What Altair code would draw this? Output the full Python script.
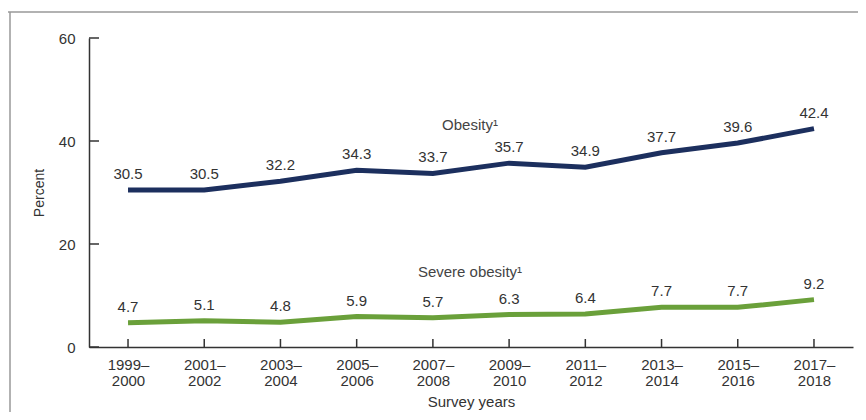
import altair as alt
import pandas as pd
import json

years = ["1999–2000", "2001–2002", "2003–2004", "2005–2006", "2007–2008",
         "2009–2010", "2011–2012", "2013–2014", "2015–2016", "2017–2018"]
obesity = [30.5, 30.5, 32.2, 34.3, 33.7, 35.7, 34.9, 37.7, 39.6, 42.4]
severe = [4.7, 5.1, 4.8, 5.9, 5.7, 6.3, 6.4, 7.7, 7.7, 9.2]
series_names = ["Obesity", "Severe obesity"]
series_colors = ["#1c2f5e", "#6aa03a"]
y_ticks = [0, 20, 40, 60]
annot_text = ["Obesity¹", "Severe obesity¹"]
annot_y = [43.2, 14.6]

W, H = 764, 309
FONT = "Liberation Sans"

idx = list(range(len(years)))
df = pd.DataFrame({
    "idx": idx * 2,
    "year": years * 2,
    "value": obesity + severe,
    "series": [series_names[0]] * len(years) + [series_names[1]] * len(years),
})
df["label"] = df["value"].map(lambda v: f"{v:.1f}")

split_labels = [[y[:5], y[5:]] for y in years]
label_expr = json.dumps(split_labels, ensure_ascii=False) + "[datum.value]"

xscale = alt.Scale(domain=[-0.512, len(years) - 1 + 0.512], nice=False, zero=False)
yscale = alt.Scale(domain=[0, 60])

x_enc = alt.X("idx:Q", scale=xscale,
              axis=alt.Axis(title="Survey years", values=idx, ticks=False, grid=False,
                            domainColor="#333", domainWidth=1.5, labelAngle=0, labelFont=FONT,
                            labelFontSize=15, labelColor="#333", labelPadding=10,
                            labelLineHeight=16, labelBaseline="top", labelFlush=False,
                            labelOverlap=False, labelExpr=label_expr,
                            titleFont=FONT, titleFontSize=15, titleFontWeight="normal",
                            titleColor="#333", titlePadding=6))
y_enc = alt.Y("value:Q", scale=yscale,
              axis=alt.Axis(title="Percent", values=y_ticks, ticks=False, grid=False,
                            domainColor="#333", domainWidth=1.5, labelFont=FONT,
                            labelFontSize=15, labelColor="#333", labelPadding=14,
                            titleFont=FONT, titleFontSize=14, titleFontWeight="normal",
                            titleColor="#333", titlePadding=12))

color = alt.Color("series:N", scale=alt.Scale(domain=series_names, range=series_colors),
                  legend=None)

lines = alt.Chart(df).mark_line(strokeWidth=5).encode(x=x_enc, y=y_enc, color=color)

labels = alt.Chart(df).mark_text(font=FONT, fontSize=15, color="#333", dy=-11,
                                 baseline="alphabetic").encode(
    x=alt.X("idx:Q", scale=xscale),
    y=alt.Y("value:Q", scale=yscale),
    text="label:N")

xticks = alt.Chart(pd.DataFrame({"idx": idx})).mark_rule(color="#333", strokeWidth=1.5).encode(
    x=alt.X("idx:Q", scale=xscale), y=alt.value(H), y2=alt.value(H - 8))

yticks = alt.Chart(pd.DataFrame({"v": y_ticks})).mark_rule(color="#333", strokeWidth=1.5).encode(
    y=alt.Y("v:Q", scale=yscale), x=alt.value(0), x2=alt.value(10))

annot = alt.Chart(pd.DataFrame({"t": annot_text, "v": annot_y})).mark_text(
    font=FONT, fontSize=15, color="#444").encode(
    x=alt.value(381), y=alt.Y("v:Q", scale=yscale), text="t:N")

frame_top = alt.Chart(pd.DataFrame({"k": [0]})).mark_rule(color="#999", strokeWidth=1.5).encode(
    x=alt.value(-83), x2=alt.value(900), y=alt.value(-26))
frame_left = alt.Chart(pd.DataFrame({"k": [0]})).mark_rule(color="#999", strokeWidth=1.5).encode(
    x=alt.value(-79), y=alt.value(-26), y2=alt.value(500))

chart = alt.layer(frame_top, frame_left, lines, labels, xticks, yticks, annot).properties(
    width=W, height=H,
    autosize=alt.AutoSizeParams(type="none"),
    padding={"left": 81, "top": 30, "right": 5, "bottom": 65},
).configure_view(stroke=None)

chart.save("out.html", embed_options={"renderer": "svg", "actions": False})
